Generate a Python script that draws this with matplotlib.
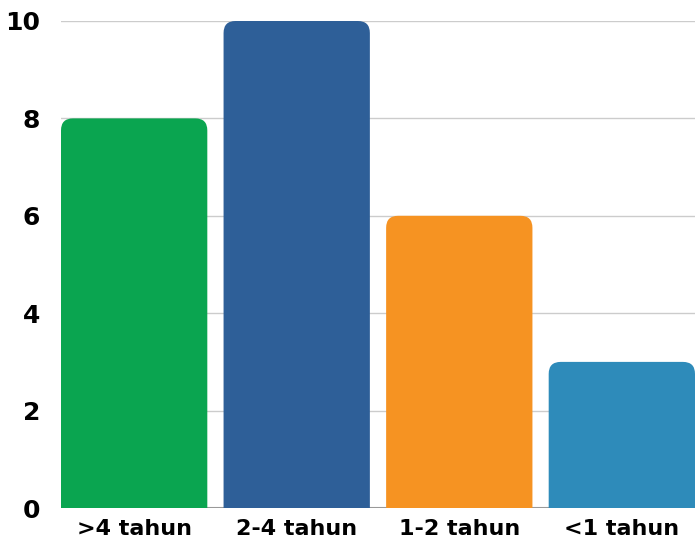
import matplotlib.pyplot as plt
from matplotlib.patches import FancyBboxPatch

# data
categories = [">4 tahun", "2-4 tahun", "1-2 tahun", "<1 tahun"]
values = [8, 10, 6, 3]
colors = ["#0aa550", "#2e5f98", "#f69322", "#2e8bba"]
yticks = [0, 2, 4, 6, 8, 10]

W, H = 695, 542
fig = plt.figure(figsize=(W / 100, H / 100), dpi=100)
ax = fig.add_axes([61 / W, 1 - 508 / H, (W - 61) / W, (508 - 21) / H])

bw = 0.9
ax.set_xlim(-bw / 2, len(values) - 1 + bw / 2)
ax.set_ylim(0, 10)

# bars: only use ax.bar for geometry, then draw rounded-top versions
bars = ax.bar(range(len(values)), values, width=bw, color=colors, alpha=0)

px_x = (W - 61) / (len(values) - 1 + bw)   # pixels per x unit
px_y = (508 - 21) / 10                       # pixels per y unit
aspect = px_x / px_y
r = 12 / px_x
for b, c in zip(bars, colors):
    x0 = b.get_x()
    h = b.get_height()
    # extend below zero so bottom corners get clipped away
    patch = FancyBboxPatch((x0, -1), bw, h + 1,
                           boxstyle=f"round,pad=0,rounding_size={r}",
                           mutation_aspect=aspect, fc=c, ec="none", zorder=2)
    patch.set_clip_box(ax.bbox)
    ax.add_patch(patch)

ax.set_yticks(yticks)
ax.yaxis.grid(True, color="#cccccc", linewidth=1)
ax.set_axisbelow(True)
ax.axhline(0, color="#999999", linewidth=1.5, zorder=1)

for s in ax.spines.values():
    s.set_visible(False)
ax.tick_params(length=0)
ax.tick_params(axis="y", pad=15)
ax.tick_params(axis="x", pad=8)
ax.set_xticks(range(len(values)))
ax.set_xticklabels(categories)
for lab in ax.get_xticklabels():
    lab.set_fontweight("bold")
    lab.set_fontsize(16)
    lab.set_color("#000000")
for lab in ax.get_yticklabels():
    lab.set_fontweight("bold")
    lab.set_fontsize(18)
    lab.set_color("#000000")

fig.savefig("out.png", dpi=100)
